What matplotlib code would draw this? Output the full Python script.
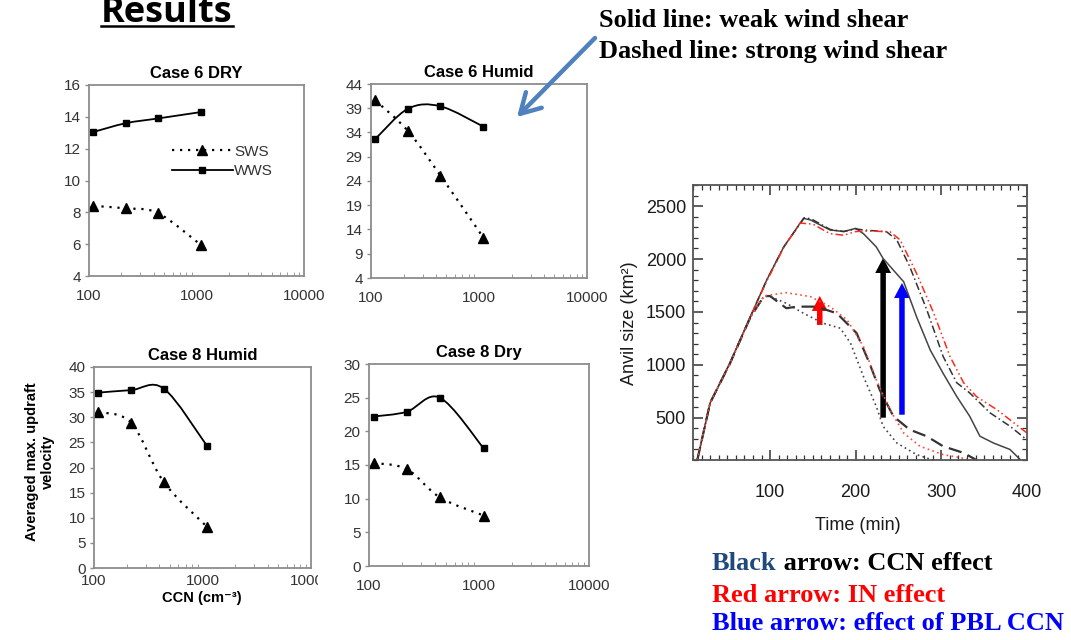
import matplotlib
matplotlib.use("Agg")
import matplotlib.pyplot as plt
import numpy as np
from matplotlib.lines import Line2D
from matplotlib.patches import FancyArrowPatch, PathPatch
from matplotlib.path import Path
from matplotlib.ticker import FixedLocator, LogLocator, MultipleLocator, NullFormatter
from matplotlib.transforms import Bbox, IdentityTransform, TransformedBbox

W, H = 1071, 640

# ---- small panels: max updraft vs CCN ----
ccn = [110, 220, 440, 1100]
case_titles = ["Case 6 DRY", "Case 6 Humid", "Case 8 Humid", "Case 8 Dry"]
wws = [
    [13.05, 13.6, 13.9, 14.3],
    [32.7, 38.9, 39.4, 35.2],
    [34.9, 35.4, 35.7, 24.3],
    [22.2, 22.9, 25.0, 17.5],
]
sws = [
    [8.4, 8.25, 7.95, 5.95],
    [40.6, 34.3, 25.1, 12.3],
    [31.0, 28.9, 17.1, 8.2],
    [15.3, 14.4, 10.2, 7.5],
]
case_yticks = [
    [4, 6, 8, 10, 12, 14, 16],
    [4, 9, 14, 19, 24, 29, 34, 39, 44],
    [0, 5, 10, 15, 20, 25, 30, 35, 40],
    [0, 5, 10, 15, 20, 25, 30],
]
ccn_ticks = [100, 1000, 10000]

# ---- anvil size vs time ----
t_solid = [15, 30, 53, 77, 96, 116, 139, 147, 170, 186, 200, 209, 224, 232, 256, 271, 287, 302, 318, 333, 345, 361, 380, 392]
a_solid = [100, 640, 1015, 1455, 1800, 2115, 2385, 2370, 2275, 2260, 2290, 2240, 2115, 2005, 1785, 1455, 1140, 920, 700, 515, 325, 260, 200, 105]
t_dashdot = [15, 30, 53, 77, 96, 116, 140, 148, 170, 186, 200, 209, 236, 248, 263, 283, 302, 318, 333, 357, 380, 400]
a_dashdot = [100, 640, 1015, 1455, 1800, 2115, 2390, 2380, 2280, 2260, 2285, 2275, 2258, 2180, 1930, 1520, 1080, 830, 735, 545, 420, 290]
t_red_dashdot = [15, 30, 53, 77, 96, 116, 135, 150, 170, 186, 200, 215, 240, 252, 271, 291, 310, 326, 341, 365, 400]
a_red_dashdot = [100, 640, 1010, 1450, 1790, 2110, 2340, 2330, 2240, 2225, 2260, 2265, 2258, 2180, 1865, 1490, 1080, 830, 700, 575, 355]
t_dashed = [15, 30, 53, 77, 93, 100, 119, 131, 154, 178, 201, 216, 228, 244, 263, 283, 302, 326, 340]
a_dashed = [100, 640, 1010, 1450, 1650, 1650, 1535, 1550, 1550, 1487, 1300, 1016, 764, 513, 387, 324, 230, 167, 104]
t_dotted = [15, 30, 53, 77, 93, 100, 119, 139, 162, 182, 194, 209, 224, 232, 248, 271, 290]
a_dotted = [100, 640, 1010, 1450, 1650, 1645, 1582, 1487, 1393, 1346, 1204, 890, 607, 418, 261, 151, 100]
t_red_dotted = [15, 30, 53, 77, 93, 100, 119, 147, 170, 190, 209, 224, 240, 256, 275, 302, 330]
a_red_dotted = [100, 640, 1010, 1450, 1650, 1660, 1682, 1645, 1550, 1424, 1173, 858, 575, 355, 230, 151, 110]

arrow_t = [232, 254, 158]
arrow_from = [500, 528, 1377]
arrow_to = [2010, 1773, 1651]
arrow_colors = ["black", "#0000ff", "#ff0000"]

SANS = ["Liberation Sans", "DejaVu Sans"]
SERIF = "Liberation Serif"


def rect(left, top, right, bottom):
    return [left / W, 1 - bottom / H, (right - left) / W, (bottom - top) / H]


def smooth_path(xs, ys):
    """Excel style smoothed line: Catmull-Rom segments as cubic Beziers in log-x space."""
    pts = np.column_stack([np.log10(xs), np.asarray(ys, float)])
    ext = np.vstack([pts[0], pts, pts[-1]])
    verts = [pts[0]]
    codes = [Path.MOVETO]
    for i in range(len(pts) - 1):
        p0, p1, p2, p3 = ext[i], ext[i + 1], ext[i + 2], ext[i + 3]
        verts += [p1 + (p2 - p0) / 6, p2 - (p3 - p1) / 6, p2]
        codes += [Path.CURVE4] * 3
    verts = np.array(verts)
    verts[:, 0] = 10 ** verts[:, 0]
    return Path(verts, codes)


fig = plt.figure(figsize=(W / 100, H / 100), dpi=100)

boxes = [(89, 85, 304, 276), (371, 84, 587, 278), (94, 367, 311, 568), (369, 364, 589, 566)]
xpads = [9.5, 9.5, 4.5, 9.5]
dotted = (0, (1, 2.6))
small_axes = []
for i, box in enumerate(boxes):
    ax = fig.add_axes(rect(*box))
    small_axes.append(ax)
    ax.set_xscale("log")
    ax.add_patch(PathPatch(smooth_path(ccn, wws[i]), fill=False, lw=1.3, ec="black"))
    ax.add_patch(PathPatch(smooth_path(ccn, sws[i]), fill=False, lw=1.6, ec="black", ls=dotted))
    ax.plot(ccn, wws[i], ls="none", marker="s", ms=5, color="black")
    ax.plot(ccn, sws[i], ls="none", marker="^", ms=7, color="black")
    ax.set_xlim(100, 10000)
    ax.set_ylim(case_yticks[i][0], case_yticks[i][-1])
    ax.yaxis.set_major_locator(FixedLocator(case_yticks[i]))
    ax.xaxis.set_major_locator(FixedLocator(ccn_ticks))
    ax.set_xticklabels([str(v) for v in ccn_ticks])
    ax.xaxis.set_minor_locator(LogLocator(base=10, subs=np.arange(2, 10)))
    ax.xaxis.set_minor_formatter(NullFormatter())
    for s in ax.spines.values():
        s.set_color("#8c8c8c")
        s.set_linewidth(1.3)
    ax.tick_params(axis="y", direction="out", length=3, width=1, color="#8c8c8c",
                   labelsize=11, labelcolor="#333333", pad=3)
    ax.tick_params(axis="x", which="major", length=0, labelsize=11, labelcolor="#333333", pad=xpads[i])
    ax.tick_params(axis="x", which="minor", direction="in", length=3, color="#8c8c8c")
    for lab in ax.get_xticklabels() + ax.get_yticklabels():
        lab.set_family(SANS)
    ax.set_title(case_titles[i], fontsize=12, fontweight="bold", family=SANS, pad=5)

# legend in first panel
handles = [
    Line2D([], [], color="black", ls=dotted, lw=1.6, marker="^", ms=7),
    Line2D([], [], color="black", ls="-", lw=1.3, marker="s", ms=5),
]
leg = small_axes[0].legend(handles, ["SWS", "WWS"], loc="center left", bbox_to_anchor=(0.32, 0.6),
                           frameon=False, handlelength=4.0, handletextpad=0.1, labelspacing=0.35,
                           prop={"family": SANS, "size": 11})
for txt in leg.get_texts():
    txt.set_color("#333333")

# clip the right tick label of Case 8 Humid as in the original slide
clip = TransformedBbox(Bbox([[0, 0], [318 / W, 1]]), fig.transFigure)
for lab in small_axes[2].get_xticklabels():
    lab.set_clip_box(clip)
    lab.set_clip_on(True)

fig.text(40 / W, 1 - 462 / H, "Averaged max. updraft\nvelocity", rotation=90, ha="center", va="center",
         fontsize=10.5, fontweight="bold", family=SANS, linespacing=1.15)
fig.text(202 / W, 1 - 598 / H, "CCN (cm\u207b\u00b3)", ha="center", va="center",
         fontsize=10.5, fontweight="bold", family=SANS)

# ---- anvil panel ----
ax5 = fig.add_axes(rect(693, 185, 1027, 460))
ax5.plot(t_solid, a_solid, color="#444444", lw=1.1, ls="-")
ax5.plot(t_dashdot, a_dashdot, color="#333333", lw=1.1, ls=(0, (5, 2, 1, 2)))
ax5.plot(t_red_dashdot, a_red_dashdot, color="#ff2a1a", lw=1.1, ls=(0, (5, 2, 1, 2, 1, 2)))
ax5.plot(t_dashed, a_dashed, color="#333333", lw=1.6, ls=(0, (6, 3)))
ax5.plot(t_dotted, a_dotted, color="#444444", lw=1.2, ls=(0, (1, 2)))
ax5.plot(t_red_dotted, a_red_dotted, color="#ff4a3a", lw=1.2, ls=(0, (1, 2)))
for t, y0, y1, c in zip(arrow_t, arrow_from, arrow_to, arrow_colors):
    ax5.add_patch(FancyArrowPatch((t, y0), (t, y1), arrowstyle="simple,head_length=0.9,head_width=0.95,tail_width=0.33",
                                  mutation_scale=12, color=c, shrinkA=0, shrinkB=0, lw=0))
ax5.set_xlim(10, 400)
ax5.set_ylim(100, 2700)
ax5.set_xticks([100, 200, 300, 400])
ax5.set_yticks([500, 1000, 1500, 2000, 2500])
ax5.xaxis.set_minor_locator(MultipleLocator(10))
ax5.yaxis.set_minor_locator(MultipleLocator(100))
ax5.tick_params(which="both", direction="in", top=True, right=True, color="#333333")
ax5.tick_params(which="major", length=7, width=1.1, labelsize=13, labelcolor="#1a1a1a")
ax5.tick_params(which="minor", length=3.5, width=0.9)
ax5.tick_params(axis="x", pad=17)
ax5.tick_params(axis="y", pad=5)
for lab in ax5.get_xticklabels() + ax5.get_yticklabels():
    lab.set_family(SANS)
for s in ax5.spines.values():
    s.set_color("#555555")
    s.set_linewidth(1.3)
fig.text(630 / W, 1 - 323 / H, "Anvil size (km\u00b2)", rotation=90, ha="center", va="center",
         fontsize=13, family=SANS, color="#1a1a1a")
fig.text(858 / W, 1 - 525 / H, "Time (min)", ha="center", va="center",
         fontsize=13, family=SANS, color="#1a1a1a")

# ---- slide texts ----
title = fig.text(167 / W, 1 - 22 / H, "Results", ha="center", va="baseline",
                 fontsize=26, fontweight="bold", family="Open Sans", color="black")
fig.text(599 / W, 1 - 27 / H, "Solid line: weak wind shear", ha="left", va="baseline",
         fontsize=19, fontweight="bold", family=SERIF)
fig.text(599 / W, 1 - 58 / H, "Dashed line: strong wind shear", ha="left", va="baseline",
         fontsize=19, fontweight="bold", family=SERIF)

first = fig.text(712 / W, 1 - 570 / H, "Black", ha="left", va="baseline",
                 fontsize=19, fontweight="bold", family=SERIF, color="#1f497d")
fig.text(712 / W, 1 - 602 / H, "Red arrow: IN effect", ha="left", va="baseline",
         fontsize=19, fontweight="bold", family=SERIF, color="#ff0000")
fig.text(712 / W, 1 - 630 / H, "Blue arrow: effect of PBL CCN", ha="left", va="baseline",
         fontsize=19, fontweight="bold", family=SERIF, color="#0000ff")

fig.canvas.draw()
renderer = fig.canvas.get_renderer()
bb = first.get_window_extent(renderer)
fig.text(bb.x1 / W, 1 - 570 / H, " arrow: CCN effect", ha="left", va="baseline",
         fontsize=19, fontweight="bold", family=SERIF, color="black")

tb = title.get_window_extent(renderer)
fig.add_artist(Line2D([tb.x0, tb.x1], [H - 25.5, H - 25.5], transform=IdentityTransform(),
                      color="black", lw=1.8))

# blue pointer arrow from the legend text to the Case 6 Humid panel
fig.add_artist(FancyArrowPatch((595 / W, 1 - 38 / H), (517 / W, 1 - 117 / H), transform=fig.transFigure,
                               arrowstyle="->,head_length=0.7,head_width=0.4", mutation_scale=20,
                               color="#4f81bd", lw=3.2, shrinkA=0, shrinkB=0))

fig.savefig("out.png", dpi=100)
